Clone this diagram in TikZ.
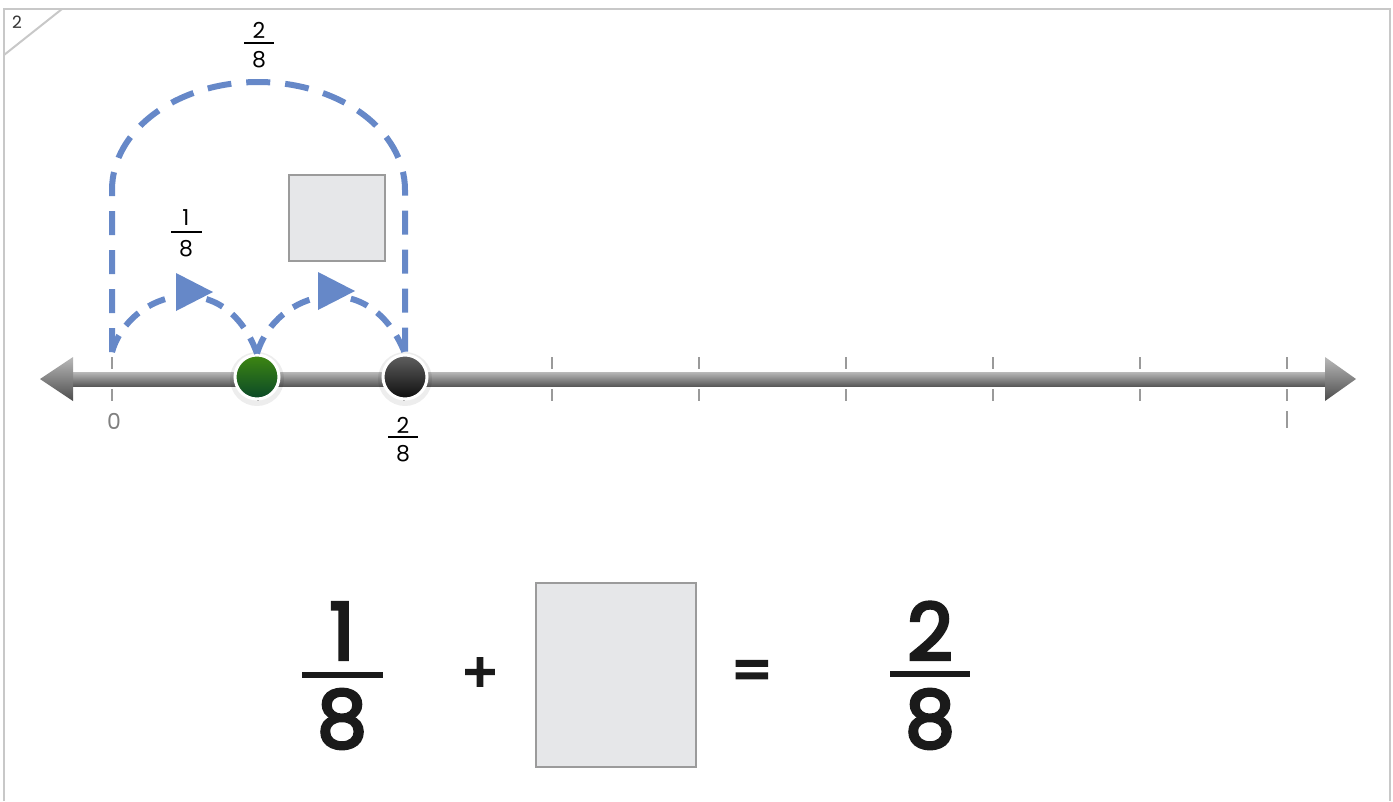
\documentclass[tikz,border=0pt]{standalone}
\usepackage{fontspec}
\setmainfont{Poppins}
\newfontfamily\eqfont[FakeBold=4]{Poppins}
\definecolor{jumpblue}{HTML}{6688C8}
\definecolor{boxfill}{HTML}{E6E7E9}
\definecolor{boxline}{HTML}{9B9B9B}
\definecolor{framegray}{HTML}{C8C8C8}
\definecolor{tickgray}{HTML}{9A9A9A}
\definecolor{greentop}{RGB}{62,135,18}
\definecolor{greenbot}{RGB}{10,72,40}
\definecolor{eqblack}{HTML}{1A1A1A}
\begin{document}
\begin{tikzpicture}[x=1pt,y=-1pt,
  bigjump/.style={draw=jumpblue, line width=6, dash pattern=on 24 off 15},
  smalljump/.style={draw=jumpblue, line width=6, dash pattern=on 18 off 12},
  jumptip/.style={fill=jumpblue},
  answerbox/.style={draw=boxline, fill=boxfill, line width=2, inner sep=0},
  tickline/.style={draw=tickgray, line width=2},
  smallnum/.style={font=\fontsize{22}{22}\selectfont, inner sep=0},
  bignum/.style={font=\eqfont\fontsize{79}{79}\selectfont, inner sep=0, text=eqblack},
  fracbar/.style={draw=black, line width=1.5},
  bigbar/.style={draw=eqblack, line width=6},
  dot/.style={circle, minimum size=44, inner sep=0, draw=white, line width=3}
]
\useasboundingbox (0,0) rectangle (1393,801);
% frame
\draw[framegray, line width=2] (4,801) -- (4,9) -- (1390,9) -- (1390,801);
\draw[framegray, line width=2] (62,9) -- (4,55);
\node[font=\fontsize{17}{17}\selectfont, text=black!80, inner sep=0] (pagenum) at (17,22) {2};

% number line
\shade[top color=gray!55, bottom color=black!65] (70,372) rectangle (1327,386);
\shade[top color=gray!55, bottom color=black!70] (73,357) -- (40,379) -- (73,401) -- cycle;
\shade[top color=gray!55, bottom color=black!70] (1325,357) -- (1356,379) -- (1325,401) -- cycle;

% ticks
\foreach \i/\x in {0/112,1/258,2/404,3/552,4/699,5/846,6/993,7/1140,8/1287}{
  \coordinate (t\i) at (\x,379);
  \draw[tickline] (\x,357) -- (\x,369);
  \draw[tickline] (\x,389) -- (\x,401);
}
\draw[tickline] (1287,411) -- (1287,428);

\node[smallnum, text=gray] (zero) at (114,421) {0};

% dots
\fill[black, opacity=0.07] (257,379) circle[radius=27];
\fill[black, opacity=0.07] (405,379) circle[radius=27];
\node[dot, top color=greentop, bottom color=greenbot] (g) at (257,377) {};
\node[dot, top color=black!62, bottom color=black!95] (b) at (405,377) {};

% label below black dot
\node[smallnum] (bn) at (403,425) {2};
\draw[fracbar] (388,437) -- (418,437);
\node[smallnum] (bd) at (403,454) {8};

% jumps
\coordinate (a0) at (112,352);
\draw[smalljump] (a0) .. controls (130,290) and (225,265) .. (g.north);
\draw[smalljump] (g.north) .. controls (276,290) and (370,265) .. (b.north);
\fill[jumptip] (176,273) -- (213,292) -- (176,311) -- cycle;
\fill[jumptip] (318,272) -- (355,291) -- (318,310) -- cycle;
\draw[bigjump] (a0) -- (112,190) .. controls (112,130) and (177,82) .. (258,82)
   .. controls (339,82) and (405,130) .. (405,190) -- (b.north);

% labels of jumps
\node[smallnum] (tn) at (259,30) {2};
\draw[fracbar] (244,43) -- (274,43);
\node[smallnum] (td) at (259,60) {8};

\node[smallnum] (on) at (186,218) {1};
\draw[fracbar] (171,232) -- (202,232);
\node[smallnum] (od) at (186,249) {8};

\node[answerbox, minimum width=96, minimum height=86] (smallbox) at (337,218) {};

% equation
\node[bignum] (n1) at (342,631) {1};
\draw[bigbar] (302,675) -- (383,675);
\node[bignum] (d1) at (342,719) {8};
\node[bignum, font=\eqfont\fontsize{54}{54}\selectfont] (plus) at (480,675) {+};
\node[answerbox, minimum width=160, minimum height=184] (bigbox) at (616,675) {};
\node[bignum, font=\eqfont\fontsize{58}{58}\selectfont] (eq) at (752,676) {=};
\node[bignum] (n2) at (930,631) {2};
\draw[bigbar] (890,674) -- (970,674);
\node[bignum] (d2) at (930,719) {8};
\end{tikzpicture}
\end{document}
